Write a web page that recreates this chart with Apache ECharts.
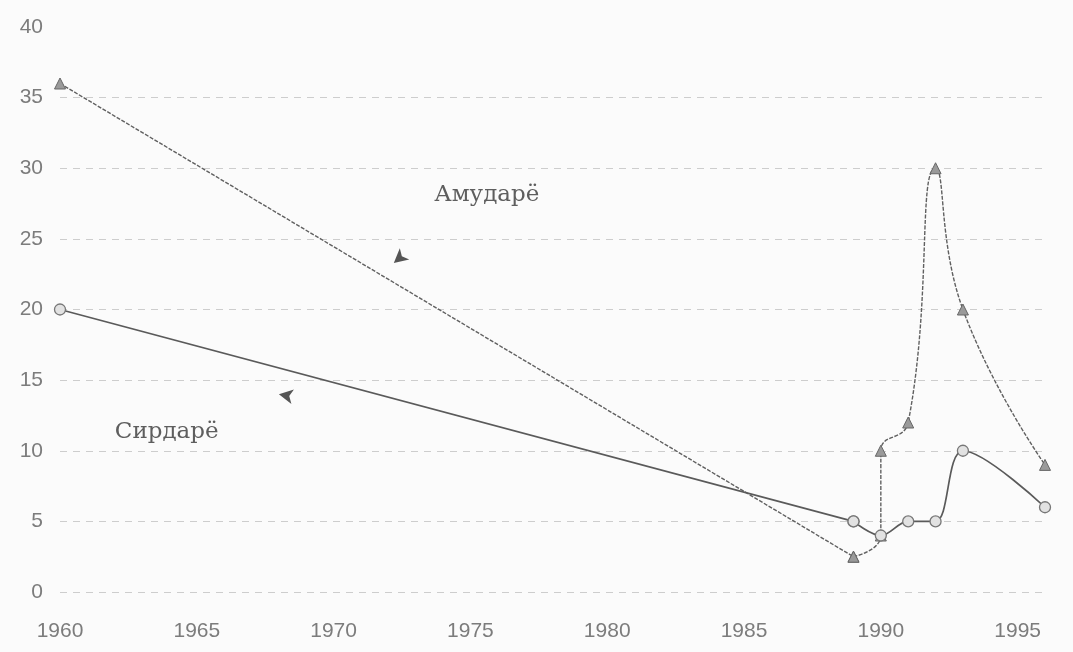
<!DOCTYPE html>
<html>
<head>
<meta charset="utf-8">
<script src="https://cdn.jsdelivr.net/npm/echarts@6/dist/echarts.min.js"></script>
<style>
  html, body { margin: 0; padding: 0; background: #fbfbfb; }
  #chart { width: 1073px; height: 652px; }
</style>
</head>
<body>
<div id="chart"></div>
<script>
// Water flow series (Амударё / Сирдарё), years on x
const amuYears  = [1960, 1989, 1990, 1990, 1991, 1992, 1993, 1996];
const amuValues = [36, 2.5, 4, 10, 12, 30, 20, 9];
const syrYears  = [1960, 1989, 1990, 1991, 1992, 1993, 1996];
const syrValues = [20, 5, 4, 5, 5, 10, 6];

// Axis ranges
const xTicks = [1960, 1965, 1970, 1975, 1980, 1985, 1990, 1995];
const yTicks = [0, 5, 10, 15, 20, 25, 30, 35, 40];

// Series names and where their names sit (data coordinates)
const seriesNames = ['Амударё', 'Сирдарё'];
const nameSpots = [[1975.6, 28.1], [1963.9, 11.3]];
// Pointer heads near each line: [year, value, rotation]
const pointers = [[1972.2, 23.3, 130], [1968.0, 14.0, 80]];

const pairs = (xs, ys) => xs.map((x, i) => [x, ys[i]]);

const chart = echarts.init(document.getElementById('chart'), null, { renderer: 'canvas' });

const axisLabelStyle = {
  color: '#7c7c7c',
  fontFamily: 'Liberation Sans, Arial, sans-serif',
  fontSize: 21
};

const amuStyle = {
  symbol: 'triangle',
  symbolSize: 11,
  lineStyle: { color: '#606060', width: 1.4, type: [4, 1.5] },
  itemStyle: { color: '#9a9a9a', borderColor: '#666', borderWidth: 1 }
};
const syrStyle = {
  symbol: 'circle',
  symbolSize: 11,
  lineStyle: { color: '#5a5a5a', width: 1.7 },
  itemStyle: { color: '#e2e2e2', borderColor: '#777', borderWidth: 1.3 }
};

function pointer(p) {
  return {
    silent: true,
    symbol: 'arrow',
    symbolSize: [11, 14],
    itemStyle: { color: '#555' },
    label: { show: false },
    data: [{ coord: [p[0], p[1]], symbolRotate: p[2] }]
  };
}

// Each river: a straight run from the first year, then a smoothed tail for the 1990s
const amuData = pairs(amuYears, amuValues);
const syrData = pairs(syrYears, syrValues);

chart.setOption({
  backgroundColor: '#fbfbfb',
  animation: false,
  grid: { left: 60, right: 28, top: 27, bottom: 60 },
  xAxis: {
    type: 'value',
    min: xTicks[0],
    max: 1996,
    interval: 5,
    axisLine: { show: false },
    axisTick: { show: false },
    splitLine: { show: false },
    axisLabel: Object.assign({}, axisLabelStyle, {
      margin: 29,
      formatter: v => (xTicks.indexOf(v) >= 0 ? String(v) : '')
    })
  },
  yAxis: {
    type: 'value',
    min: yTicks[0],
    max: yTicks[yTicks.length - 1],
    interval: 5,
    axisLine: { show: false },
    axisTick: { show: false },
    splitLine: {
      show: true,
      showMaxLine: false,
      lineStyle: { color: '#cdcdcd', type: [7, 6], width: 1 }
    },
    axisLabel: Object.assign({}, axisLabelStyle, { margin: 17 })
  },
  series: [
    Object.assign({
      name: seriesNames[0], type: 'line', z: 2,
      data: amuData.slice(0, 2),
      markPoint: pointer(pointers[0])
    }, amuStyle),
    Object.assign({
      name: seriesNames[0], type: 'line', z: 2,
      data: amuData.slice(1),
      smooth: 0.5
    }, amuStyle),
    Object.assign({
      name: seriesNames[1], type: 'line', z: 3,
      data: syrData.slice(0, 2),
      markPoint: pointer(pointers[1])
    }, syrStyle),
    Object.assign({
      name: seriesNames[1], type: 'line', z: 3,
      data: syrData.slice(1),
      smooth: 0.35
    }, syrStyle)
  ]
});

// Series names written beside the lines, placed through the chart's own scales
const nameGraphics = seriesNames.map((name, i) => {
  const p = chart.convertToPixel({ gridIndex: 0 }, nameSpots[i]);
  return {
    type: 'text',
    x: p[0],
    y: p[1],
    style: {
      text: name,
      fill: '#5e5e5e',
      font: '23px "DejaVu Serif", "Liberation Serif", serif',
      align: 'center',
      verticalAlign: 'middle'
    }
  };
});
chart.setOption({ graphic: nameGraphics });
</script>
</body>
</html>
